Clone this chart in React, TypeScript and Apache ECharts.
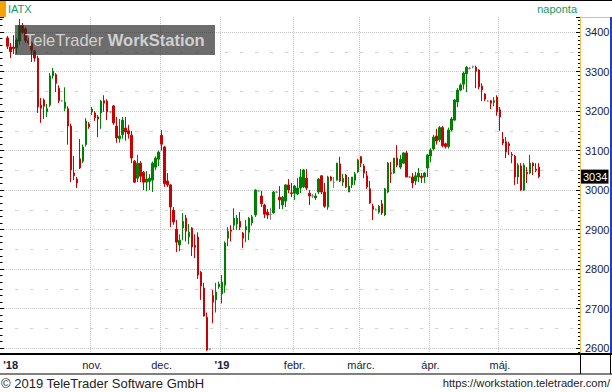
import { useEffect, useRef } from 'react';
import * as echarts from 'echarts';

// [open, close, low, high]
type C = [number, number, number, number];

const octData: C[] = [
  [3385, 3364, 3357, 3390], [3362, 3350, 3334, 3372], [3362, 3358, 3344, 3392], [3360, 3380, 3345, 3385],
  [3377, 3416, 3368, 3433], [3416, 3399, 3395, 3423], [3408, 3378, 3372, 3412], [3378, 3372, 3368, 3385],
  [3372, 3354, 3324, 3376], [3352, 3334, 3325, 3355], [3334, 3210, 3195, 3340], [3215, 3207, 3170, 3233],
  [3228, 3212, 3180, 3232], [3198, 3206, 3185, 3218], [3215, 3289, 3210, 3296], [3289, 3301, 3282, 3309],
  [3292, 3270, 3248, 3296], [3258, 3226, 3220, 3265], [3226, 3226, 3224, 3228], [3207, 3223, 3200, 3260],
  [3206, 3162, 3115, 3212], [3162, 3051, 3020, 3168], [3043, 3036, 3025, 3086], [3028, 3018, 3005, 3033],
  [3079, 3056, 3053, 3129], [3073, 3109, 3068, 3115], [3115, 3175, 3110, 3182], [3167, 3160, 3155, 3172],
];

const novData: C[] = [
  [3198, 3205, 3190, 3210], [3195, 3183, 3175, 3200], [3185, 3180, 3134, 3190], [3195, 3225, 3155, 3228],
  [3226, 3220, 3198, 3240], [3225, 3198, 3177, 3230], [3198, 3198, 3196, 3200], [3213, 3170, 3165, 3215],
  [3162, 3132, 3120, 3185], [3130, 3137, 3120, 3180], [3140, 3177, 3130, 3185], [3157, 3147, 3125, 3185],
  [3150, 3142, 3130, 3165], [3139, 3081, 3068, 3150], [3073, 3020, 3018, 3076], [3030, 3068, 3020, 3089],
  [3068, 3035, 3020, 3073], [3045, 3020, 3000, 3048], [3020, 3028, 2997, 3048], [3022, 3030, 3000, 3040],
  [3025, 3068, 2995, 3072], [3058, 3081, 3050, 3085], [3078, 3096, 3060, 3100],
];

const decData: C[] = [
  [3139, 3116, 3100, 3152], [3109, 3016, 3008, 3112], [3023, 3013, 3008, 3043], [3013, 2957, 2906, 3015],
  [2949, 2919, 2912, 2957], [2901, 2868, 2843, 2924], [2861, 2873, 2845, 2888], [2904, 2921, 2873, 2942],
  [2929, 2896, 2870, 2937], [2881, 2893, 2863, 2914], [2904, 2856, 2833, 2906], [2860, 2855, 2828, 2888],
  [2881, 2785, 2775, 2893], [2792, 2757, 2722, 2795], [2752, 2681, 2680, 2765], [2678, 2595, 2593, 2690],
  [2597, 2597, 2595, 2599], [2733, 2716, 2663, 2747], [2722, 2742, 2690, 2765], [2755, 2762, 2750, 2768],
];

const janData: C[] = [
  [2737, 2767, 2713, 2785], [2759, 2866, 2740, 2870], [2878, 2896, 2858, 2906], [2899, 2896, 2870, 2911],
  [2911, 2929, 2899, 2954], [2914, 2929, 2899, 2937], [2921, 2906, 2899, 2944], [2891, 2878, 2853, 2894],
  [2899, 2908, 2868, 2924], [2893, 2929, 2873, 2932], [2917, 2932, 2910, 2937], [2937, 3000, 2932, 3002],
  [2998, 2998, 2996, 3000], [2985, 2965, 2957, 2998], [2962, 2939, 2929, 2965], [2944, 2937, 2927, 2952],
  [2938, 2938, 2925, 2955], [2942, 2995, 2940, 2998], [2995, 2995, 2993, 2997], [2982, 2975, 2952, 3010],
  [2962, 2982, 2952, 2985], [2972, 3013, 2957, 3015], [3013, 3000, 2992, 3028], [2993, 2991, 2982, 3018],
];

const febData: C[] = [
  [2992, 3010, 2975, 3013], [2990, 3005, 2987, 3030], [3005, 3033, 2992, 3053], [3008, 3051, 3005, 3053],
  [3030, 3005, 3000, 3053], [2992, 2985, 2962, 3000], [2985, 2985, 2980, 2990], [2980, 2985, 2975, 2992],
  [2995, 3028, 2990, 3030], [3036, 2995, 2990, 3038], [2995, 2959, 2955, 3018], [2957, 3033, 2950, 3036],
  [3033, 3025, 3022, 3036], [3020, 3020, 3005, 3033], [3025, 3068, 3024, 3069], [3066, 3023, 3020, 3084],
  [3020, 3030, 3010, 3041], [3038, 3008, 3005, 3041], [2995, 3010, 2995, 3033], [3013, 3033, 3005, 3033],
  [3025, 3041, 3013, 3046], [3046, 3076, 3043, 3079],
];

const marData: C[] = [
  [3084, 3068, 3058, 3086], [3061, 3043, 3030, 3066], [3036, 3008, 3003, 3048], [3003, 2967, 2965, 3023],
  [2959, 2951, 2924, 2965], [2951, 2951, 2949, 2953], [2944, 2959, 2940, 2962], [2965, 2942, 2937, 2975],
  [2937, 3003, 2934, 3005], [2995, 3068, 2992, 3071], [3044, 3042, 3018, 3071], [3043, 3081, 3041, 3081],
  [3081, 3063, 3058, 3114], [3058, 3078, 3053, 3089], [3068, 3094, 3066, 3096], [3094, 3033, 3033, 3099],
  [3033, 3033, 3031, 3035], [3033, 3018, 3005, 3043], [3023, 3036, 3013, 3046], [3033, 3043, 3020, 3056],
  [3035, 3031, 3018, 3043], [3033, 3043, 3018, 3046], [3056, 3089, 3033, 3091],
];

const aprData: C[] = [
  [3086, 3101, 3070, 3106], [3104, 3134, 3100, 3140], [3137, 3124, 3115, 3155], [3127, 3158, 3122, 3162],
  [3158, 3112, 3108, 3162], [3117, 3110, 3105, 3120], [3110, 3152, 3105, 3158], [3152, 3180, 3148, 3185],
  [3177, 3228, 3175, 3230], [3223, 3253, 3210, 3258], [3253, 3266, 3250, 3270], [3268, 3296, 3255, 3300],
  [3294, 3311, 3248, 3314], [3308, 3308, 3305, 3312], [3312, 3312, 3308, 3315], [3311, 3301, 3258, 3315],
  [3304, 3261, 3255, 3306], [3263, 3253, 3225, 3270], [3243, 3230, 3225, 3245], [3225, 3225, 3223, 3227],
  [3226, 3220, 3205, 3228], [3222, 3226, 3212, 3235], [3235, 3198, 3188, 3240],
];

const mayData: C[] = [
  [3203, 3185, 3150, 3210], [3129, 3119, 3114, 3147], [3122, 3096, 3081, 3134], [3117, 3112, 3089, 3122],
  [3090, 3088, 3068, 3096], [3086, 3033, 3013, 3089], [3033, 3063, 3015, 3068], [3061, 3000, 2998, 3068],
  [3000, 3063, 2998, 3068], [3045, 3041, 3018, 3058], [3043, 3068, 3040, 3089], [3068, 3061, 3038, 3070],
  [3053, 3050, 3045, 3068], [3058, 3034, 3030, 3068],
];

const monthLabels = ["'18", 'nov.', 'dec.', "'19", 'febr.', 'márc.', 'ápr.', 'máj.'];
const yearLabels = ["'18", "'19"];
const leadingEmpty = 2;
const totalSlots = 192;
const Y_MIN = 2585;
const Y_MAX = 3438;

const FONT = "'Liberation Sans', Arial, sans-serif";
const TXT = '#1a1a3a';
const GREEN = '#008000';
const RED = '#cc0000';

export default function App() {
  const ref = useRef<HTMLDivElement>(null);

  useEffect(() => {
    if (!ref.current) return;
    const chart = echarts.init(ref.current, undefined, { renderer: 'svg' });

    const months = [octData, novData, decData, janData, febData, marData, aprData, mayData];
    const candles: any[] = [];
    const labelAt = new Map<number, string>();
    const lineAt = new Set<number>();
    for (let i = 0; i < leadingEmpty; i++) candles.push(['-', '-', '-', '-']);
    months.forEach((m, mi) => {
      const start = candles.length;
      if (mi === 0) labelAt.set(start + 1, monthLabels[0]);
      else {
        labelAt.set(start, monthLabels[mi]);
        lineAt.add(start);
      }
      m.forEach((c) => candles.push(c));
    });
    const categories: string[] = [];
    for (let i = 0; i < totalSlots; i++) categories.push('d' + i);
    const last = mayData[mayData.length - 1];
    const lastClose = last[1];

    const yBase = { type: 'value', min: Y_MIN, max: Y_MAX, splitNumber: 8 };

    chart.setOption({
      animation: false,
      backgroundColor: '#ffffff',
      grid: { left: 0, right: 32, top: 17, bottom: 38, containLabel: false, outerBoundsMode: 'none' },
      xAxis: {
        type: 'category',
        data: categories,
        boundaryGap: true,
        axisLine: { show: true, lineStyle: { color: '#000', width: 2 } },
        axisTick: { show: false },
        axisLabel: {
          interval: (index: number) => labelAt.has(index),
          formatter: (_v: string, index: number) => {
            const t = labelAt.get(index) ?? '';
            return yearLabels.includes(t) ? `{y|${t}}` : t;
          },
          color: TXT,
          fontSize: 11,
          fontFamily: FONT,
          margin: 5,
          rich: { y: { fontWeight: 'bold', fontSize: 11, color: TXT, fontFamily: FONT } },
        },
        splitLine: {
          show: true,
          interval: (index: number) => lineAt.has(index),
          lineStyle: { color: '#c4c4c4', type: [1, 1], width: 1 },
        },
      },
      yAxis: [
        {
          ...yBase,
          position: 'right',
          axisLine: { show: true, lineStyle: { color: '#f2c14e', width: 1 } },
          axisTick: { show: true, inside: true, length: 4, lineStyle: { color: '#000' } },
          minorTick: { show: true, splitNumber: 10, length: 2, lineStyle: { color: '#000' } },
          axisLabel: {
            showMinLabel: false,
            showMaxLabel: false,
            margin: 5,
            color: TXT,
            fontSize: 11,
            fontFamily: FONT,
            formatter: (v: number) => String(v),
          },
          splitLine: { show: true, showMinLine: false, showMaxLine: false, lineStyle: { color: '#c4c4c4', type: [1, 1] } },
        },
        {
          ...yBase,
          position: 'left',
          axisLine: { show: false },
          axisTick: { show: true, inside: true, length: 4, lineStyle: { color: '#000' } },
          minorTick: { show: true, splitNumber: 6, length: 2.5, lineStyle: { color: '#000' } },
          axisLabel: { show: false },
          splitLine: { show: false },
        },
        {
          ...yBase,
          position: 'right',
          axisLine: { show: false },
          axisTick: { show: false },
          axisLabel: { show: false },
          splitLine: { show: false },
          minorTick: { show: false, splitNumber: 2 },
          minorSplitLine: { show: true, lineStyle: { color: '#d2d2d2', type: [3.3, 11.7], width: 1 } },
        },
      ],
      series: [
        {
          type: 'candlestick',
          yAxisIndex: 0,
          data: candles,
          barWidth: 2,
          itemStyle: {
            color: GREEN,
            color0: RED,
            borderColor: GREEN,
            borderColor0: RED,
            borderColorDoji: '#808080',
            borderWidth: 1,
          },
          markLine: {
            silent: true,
            symbol: ['none', 'none'],
            lineStyle: { color: 'transparent', width: 1, opacity: 1 },
            label: {
              show: true,
              position: 'end',
              distance: 1,
              formatter: String(lastClose),
              backgroundColor: '#000',
              color: '#fff',
              padding: [2, 1, 1, 2],
              fontSize: 11,
              fontFamily: FONT,
            },
            data: [{ yAxis: lastClose }],
          },
        },
      ],
      graphic: {
        elements: [
          { type: 'rect', shape: { x: 0, y: 0, width: 612, height: 1 }, style: { fill: '#000' }, silent: true },
          { type: 'rect', shape: { x: 0, y: 1, width: 6, height: 16 }, style: { fill: '#f5a300' }, silent: true },
          {
            type: 'text', x: 8, y: 9, silent: true,
            style: { text: 'IATX', fill: '#129a64', font: `11px ${FONT}`, verticalAlign: 'middle' },
          },
          {
            type: 'text', x: 577, y: 9, silent: true,
            style: { text: 'naponta', fill: '#129a64', font: `11px ${FONT}`, align: 'right', verticalAlign: 'middle' },
          },
          { type: 'rect', shape: { x: 580, y: 17, width: 31, height: 1 }, style: { fill: '#f2c14e' }, silent: true },
          { type: 'rect', shape: { x: 610, y: 17, width: 2, height: 337 }, style: { fill: '#1f3fbf' }, silent: true },
          { type: 'rect', shape: { x: 580, y: 353, width: 32, height: 2 }, style: { fill: '#000' }, silent: true },
          { type: 'rect', shape: { x: 580, y: 354, width: 1, height: 20 }, style: { fill: '#000' }, silent: true },
          { type: 'rect', shape: { x: 610, y: 354, width: 1, height: 20 }, style: { fill: '#000' }, silent: true },
          { type: 'rect', shape: { x: 0, y: 373.5, width: 612, height: 1 }, style: { fill: '#000' }, silent: true },
          {
            type: 'text', x: 1, y: 383, silent: true,
            style: { text: '© 2019 TeleTrader Software GmbH', fill: '#222', font: `13px ${FONT}`, verticalAlign: 'middle' },
          },
          {
            type: 'text', x: 610, y: 383, silent: true,
            style: { text: 'https://workstation.teletrader.com/', fill: '#222', font: `11.2px ${FONT}`, align: 'right', verticalAlign: 'middle' },
          },
          {
            type: 'rect', z: 100, silent: true,
            shape: { x: 15, y: 25, width: 200, height: 30 },
            style: { fill: 'rgba(40,40,40,0.68)' },
          },
          {
            type: 'text', z: 101, x: 25, y: 40, silent: true,
            style: {
              text: '{a|TeleTrader }{b|WorkStation}',
              verticalAlign: 'middle',
              rich: {
                a: { fill: '#d0d0d0', fontSize: 16.5, fontFamily: FONT },
                b: { fill: '#d0d0d0', fontSize: 16.5, fontFamily: FONT, fontWeight: 'bold' },
              },
            },
          },
        ],
      },
    } as any);

    return () => chart.dispose();
  }, []);

  return (
    <div
      ref={ref}
      style={{ position: 'fixed', left: 0, top: 0, width: 612, height: 392, background: '#fff' }}
    />
  );
}
